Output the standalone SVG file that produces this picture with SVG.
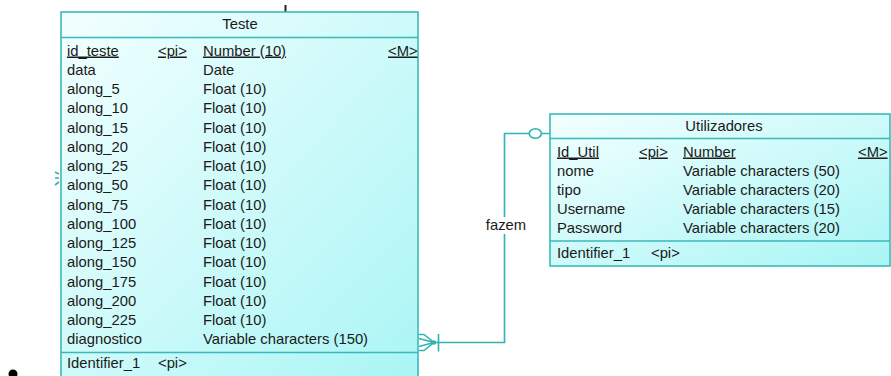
<svg xmlns="http://www.w3.org/2000/svg" width="891" height="376" viewBox="0 0 891 376">
  <defs>
    <linearGradient id="entityFill" x1="0" y1="0" x2="1" y2="1">
      <stop offset="0" stop-color="#f3ffff"/>
      <stop offset="1" stop-color="#a9f5f5"/>
    </linearGradient>
    <style>
      .box { fill: url(#entityFill); stroke: #3bb9b9; stroke-width: 1.6; }
      .sep { stroke: #3bb9b9; stroke-width: 1.6; fill: none; }
      .txt { font-family: "Liberation Sans", Arial, sans-serif; font-size: 14.8px; fill: #1a1a1a; }
      .ttl { text-anchor: middle; }
      .key { text-decoration: underline; }
      .link { stroke: #2fb3b3; stroke-width: 1.6; fill: none; }
    </style>
  </defs>

  <rect width="891" height="376" fill="#ffffff"/>

  <!-- stray marks at the edges -->
  <line x1="285.5" y1="5" x2="285.5" y2="12" stroke="#222" stroke-width="2"/>
  <circle cx="13" cy="374" r="4.5" fill="#000"/>
  <path class="link" d="M55,172 L59,174 M55,178 L59,178 M55,185 L59,182"/>

  <!-- connectors -->
  <g id="connectors">
    <path class="link" d="M550,133.5 H541.5 M529,133.5 H504.5 V217 M504.5,234 V342.5 H434"/>
    <!-- zero-or-one end at Utilizadores -->
    <ellipse class="link" cx="535.3" cy="133.5" rx="6" ry="4.8" fill="#fff"/>
    <!-- one-or-many end at Teste -->
    <path class="link" d="M419,334.5 H424 L434,342.5 M419,338.5 L434,342.5 M419,346.5 L434,342.5 M419,350.5 H424 L434,342.5"/>
    <circle cx="434" cy="342.5" r="2.2" fill="#2fb3b3"/>
    <line class="link" x1="438.5" y1="334" x2="438.5" y2="351.5"/>
    <text class="txt ttl" x="506" y="229.5">fazem</text>
  </g>

  <!-- entity Teste -->
  <g id="teste">
    <rect class="box" x="61" y="12" width="357" height="380"/>
    <line class="sep" x1="61" y1="37.5" x2="418" y2="37.5"/>
    <line class="sep" x1="61" y1="352.5" x2="418" y2="352.5"/>
    <text class="txt ttl" x="240" y="29.3">Teste</text>
    <g class="txt">
      <text class="key" x="67" y="55.5">id_teste</text>
      <text class="key" x="158" y="55.5">&lt;pi&gt;</text>
      <text class="key" x="203" y="55.5">Number (10)</text>
      <text class="key" x="388" y="55.5">&lt;M&gt;</text>

      <text x="67" y="74.75">data</text><text x="203" y="74.75">Date</text>
      <text x="67" y="94">along_5</text><text x="203" y="94">Float (10)</text>
      <text x="67" y="113.25">along_10</text><text x="203" y="113.25">Float (10)</text>
      <text x="67" y="132.5">along_15</text><text x="203" y="132.5">Float (10)</text>
      <text x="67" y="151.75">along_20</text><text x="203" y="151.75">Float (10)</text>
      <text x="67" y="171">along_25</text><text x="203" y="171">Float (10)</text>
      <text x="67" y="190.25">along_50</text><text x="203" y="190.25">Float (10)</text>
      <text x="67" y="209.5">along_75</text><text x="203" y="209.5">Float (10)</text>
      <text x="67" y="228.75">along_100</text><text x="203" y="228.75">Float (10)</text>
      <text x="67" y="248">along_125</text><text x="203" y="248">Float (10)</text>
      <text x="67" y="267.25">along_150</text><text x="203" y="267.25">Float (10)</text>
      <text x="67" y="286.5">along_175</text><text x="203" y="286.5">Float (10)</text>
      <text x="67" y="305.75">along_200</text><text x="203" y="305.75">Float (10)</text>
      <text x="67" y="325">along_225</text><text x="203" y="325">Float (10)</text>
      <text x="67" y="344.25">diagnostico</text><text x="203" y="344.25">Variable characters (150)</text>

      <text x="67" y="368.3">Identifier_1</text>
      <text x="158" y="368.3">&lt;pi&gt;</text>
    </g>
  </g>

  <!-- entity Utilizadores -->
  <g id="utilizadores">
    <rect class="box" x="550" y="114" width="340" height="152"/>
    <line class="sep" x1="550" y1="138.5" x2="890" y2="138.5"/>
    <line class="sep" x1="550" y1="241" x2="890" y2="241"/>
    <text class="txt ttl" x="724" y="130.7">Utilizadores</text>
    <g class="txt">
      <text class="key" x="557" y="156.5">Id_Util</text>
      <text class="key" x="639" y="156.5">&lt;pi&gt;</text>
      <text class="key" x="683" y="156.5">Number</text>
      <text class="key" x="858" y="156.5">&lt;M&gt;</text>

      <text x="557" y="175.5">nome</text><text x="683" y="175.5">Variable characters (50)</text>
      <text x="557" y="194.5">tipo</text><text x="683" y="194.5">Variable characters (20)</text>
      <text x="557" y="213.5">Username</text><text x="683" y="213.5">Variable characters (15)</text>
      <text x="557" y="232.5">Password</text><text x="683" y="232.5">Variable characters (20)</text>

      <text x="557" y="258.3">Identifier_1</text>
      <text x="651" y="258.3">&lt;pi&gt;</text>
    </g>
  </g>
</svg>
